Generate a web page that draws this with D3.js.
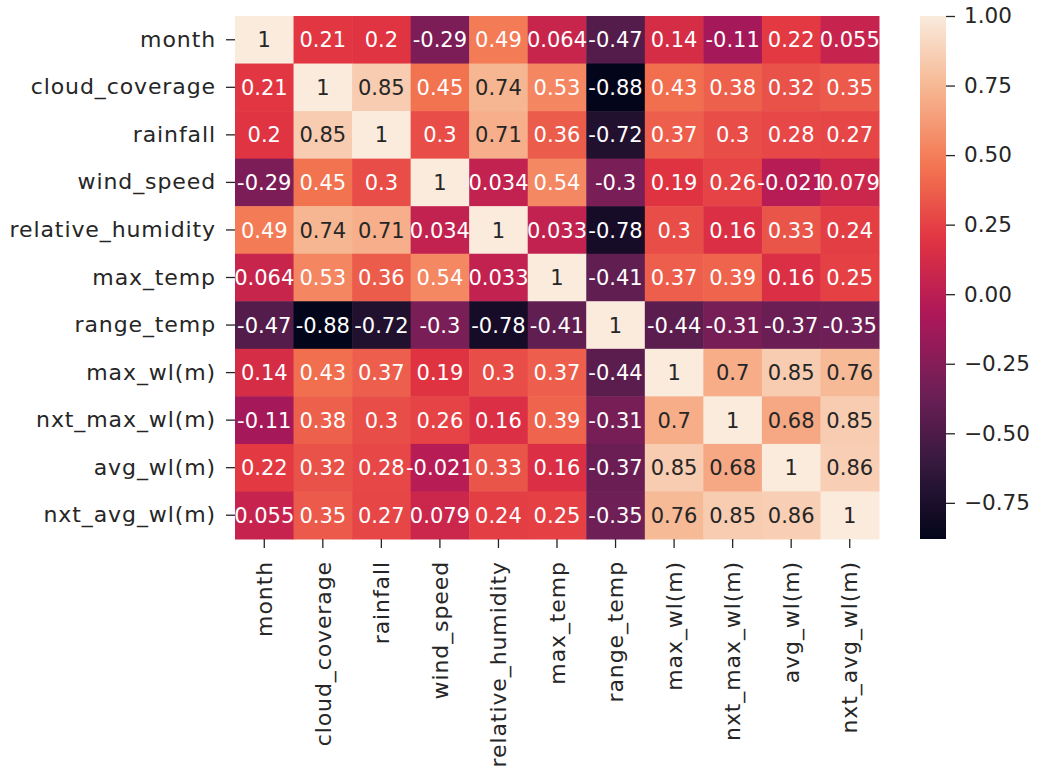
<!DOCTYPE html>
<html>
<head>
<meta charset="utf-8">
<script src="https://cdn.jsdelivr.net/npm/d3@7"></script>
<style>
  html, body { margin: 0; padding: 0; background: #fff; }
  svg { display: block; }
  text { font-family: "DejaVu Sans", sans-serif; }
</style>
</head>
<body>
<svg id="chart" width="1037" height="771"></svg>
<script>
// Variables of the correlation matrix, in row/column order
const variables = ["month", "cloud_coverage", "rainfall", "wind_speed", "relative_humidity",
  "max_temp", "range_temp", "max_wl(m)", "nxt_max_wl(m)", "avg_wl(m)", "nxt_avg_wl(m)"];

// Pearson correlation coefficients, one row per variable
const corrMonth      = [1, 0.21, 0.2, -0.29, 0.49, 0.064, -0.47, 0.14, -0.11, 0.22, 0.055];
const corrCloud      = [0.21, 1, 0.85, 0.45, 0.74, 0.53, -0.88, 0.43, 0.38, 0.32, 0.35];
const corrRainfall   = [0.2, 0.85, 1, 0.3, 0.71, 0.36, -0.72, 0.37, 0.3, 0.28, 0.27];
const corrWind       = [-0.29, 0.45, 0.3, 1, 0.034, 0.54, -0.3, 0.19, 0.26, -0.021, 0.079];
const corrHumidity   = [0.49, 0.74, 0.71, 0.034, 1, 0.033, -0.78, 0.3, 0.16, 0.33, 0.24];
const corrMaxTemp    = [0.064, 0.53, 0.36, 0.54, 0.033, 1, -0.41, 0.37, 0.39, 0.16, 0.25];
const corrRangeTemp  = [-0.47, -0.88, -0.72, -0.3, -0.78, -0.41, 1, -0.44, -0.31, -0.37, -0.35];
const corrMaxWl      = [0.14, 0.43, 0.37, 0.19, 0.3, 0.37, -0.44, 1, 0.7, 0.85, 0.76];
const corrNxtMaxWl   = [-0.11, 0.38, 0.3, 0.26, 0.16, 0.39, -0.31, 0.7, 1, 0.68, 0.85];
const corrAvgWl      = [0.22, 0.32, 0.28, -0.021, 0.33, 0.16, -0.37, 0.85, 0.68, 1, 0.86];
const corrNxtAvgWl   = [0.055, 0.35, 0.27, 0.079, 0.24, 0.25, -0.35, 0.76, 0.85, 0.86, 1];

const matrix = [corrMonth, corrCloud, corrRainfall, corrWind, corrHumidity, corrMaxTemp,
  corrRangeTemp, corrMaxWl, corrNxtMaxWl, corrAvgWl, corrNxtAvgWl];

// Colour bar tick values
const colorbarTicks = [1.0, 0.75, 0.5, 0.25, 0.0, -0.25, -0.5, -0.75];

// "rocket" colour map stops
const rocketStops = ["#03051a", "#35193e", "#701f57", "#ad1759", "#e13342", "#f37651", "#f6b48f", "#faebdd"];
const rocket = d3.piecewise(d3.interpolateRgb, rocketStops);

const textDark = "#262626";
const labelSize = 22;
const annotSize = 21;
const tickLen = 9;

const cells = [];
matrix.forEach((row, i) => row.forEach((v, j) => cells.push({ row: variables[i], col: variables[j], value: v })));

const [vmin, vmax] = d3.extent(cells, d => d.value);
const norm = d3.scaleLinear().domain([vmin, vmax]).range([0, 1]).clamp(true);
const colorOf = v => rocket(norm(v));

function luminance(color) {
  const c = d3.rgb(color);
  const lin = x => { x /= 255; return x <= 0.03928 ? x / 12.92 : Math.pow((x + 0.055) / 1.055, 2.4); };
  return 0.2126 * lin(c.r) + 0.7152 * lin(c.g) + 0.0722 * lin(c.b);
}

const svg = d3.select("#chart");

// Plot area
const plotLeft = 235, plotRight = 879, plotTop = 16, plotBottom = 539;

const x = d3.scaleBand().domain(variables).range([plotLeft, plotRight]);
const y = d3.scaleBand().domain(variables).range([plotTop, plotBottom]);

const fmt = d3.format(".2~g");
const label = v => fmt(v).replace("\u2212", "-");

// Heatmap cells
svg.append("g")
  .selectAll("rect")
  .data(cells)
  .join("rect")
  .attr("x", d => x(d.col))
  .attr("y", d => y(d.row))
  .attr("width", x.bandwidth() + 0.5)
  .attr("height", y.bandwidth() + 0.5)
  .attr("fill", d => colorOf(d.value));

// Annotations
svg.append("g")
  .selectAll("text")
  .data(cells)
  .join("text")
  .attr("x", d => x(d.col) + x.bandwidth() / 2)
  .attr("y", d => y(d.row) + y.bandwidth() / 2)
  .attr("text-anchor", "middle")
  .attr("dy", "0.36em")
  .attr("font-size", annotSize)
  .attr("fill", d => luminance(colorOf(d.value)) > 0.408 ? textDark : "#ffffff")
  .text(d => label(d.value));

// Y axis (row labels)
const yAxis = svg.append("g")
  .attr("transform", `translate(${plotLeft},0)`)
  .call(d3.axisLeft(y).tickSize(tickLen).tickPadding(10));
yAxis.select(".domain").remove();
yAxis.selectAll(".tick line").attr("stroke", textDark).attr("stroke-width", 1.3);
yAxis.selectAll(".tick text")
  .attr("font-size", labelSize)
  .attr("font-family", "DejaVu Sans")
  .attr("letter-spacing", "0.9px")
  .attr("fill", textDark);

// X axis (column labels, rotated)
const xAxis = svg.append("g")
  .attr("transform", `translate(0,${plotBottom})`)
  .call(d3.axisBottom(x).tickSize(tickLen).tickPadding(8));
xAxis.select(".domain").remove();
xAxis.selectAll(".tick line").attr("stroke", textDark).attr("stroke-width", 1.3);
xAxis.selectAll(".tick text")
  .attr("font-size", labelSize)
  .attr("font-family", "DejaVu Sans")
  .attr("letter-spacing", "0.9px")
  .attr("fill", textDark)
  .attr("text-anchor", "end")
  .attr("transform", "rotate(-90)")
  .attr("x", -22)
  .attr("y", 0)
  .attr("dy", "0.35em");

// Colour bar
const cbLeft = 920, cbWidth = 26;
const cbScale = d3.scaleLinear().domain([vmin, vmax]).range([plotBottom, plotTop]);

const defs = svg.append("defs");
const grad = defs.append("linearGradient")
  .attr("id", "cbGrad")
  .attr("x1", 0).attr("y1", 1).attr("x2", 0).attr("y2", 0);
d3.range(0, 1.0001, 0.02).forEach(t => {
  grad.append("stop").attr("offset", t).attr("stop-color", rocket(t));
});

svg.append("rect")
  .attr("x", cbLeft)
  .attr("y", plotTop)
  .attr("width", cbWidth)
  .attr("height", plotBottom - plotTop)
  .attr("fill", "url(#cbGrad)");

const cbAxis = svg.append("g")
  .attr("transform", `translate(${cbLeft + cbWidth},0)`)
  .call(d3.axisRight(cbScale).tickValues(colorbarTicks).tickFormat(d3.format(".2f")).tickSize(tickLen).tickPadding(9));
cbAxis.select(".domain").remove();
cbAxis.selectAll(".tick line").attr("stroke", textDark).attr("stroke-width", 1.3);
cbAxis.selectAll(".tick text")
  .attr("font-size", 21.5)
  .attr("font-family", "DejaVu Sans")
  .attr("fill", textDark);
</script>
</body>
</html>
